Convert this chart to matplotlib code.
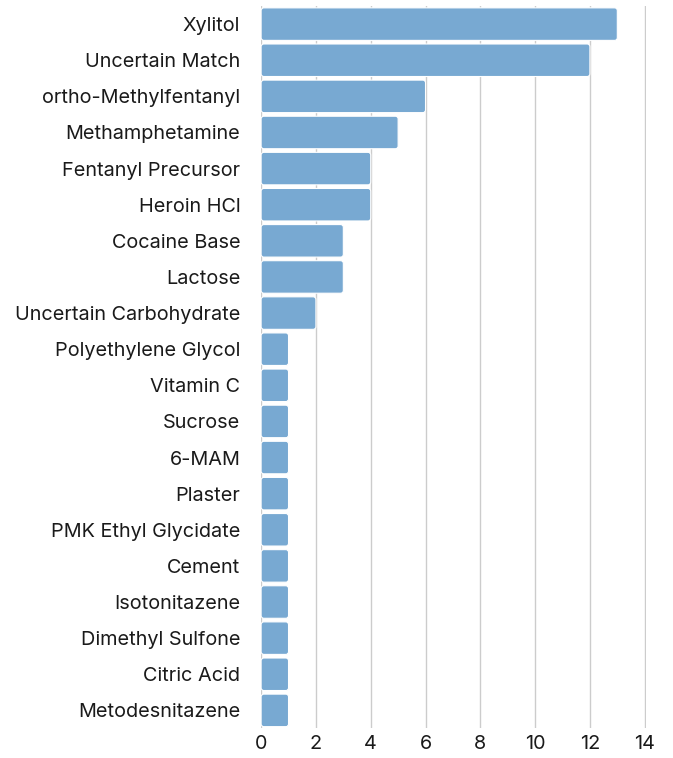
import matplotlib.pyplot as plt
from matplotlib.patches import FancyBboxPatch

# 数据
substances = ['Xylitol', 'Uncertain Match', 'ortho-Methylfentanyl', 'Methamphetamine',
              'Fentanyl Precursor', 'Heroin HCl', 'Cocaine Base', 'Lactose',
              'Uncertain Carbohydrate', 'Polyethylene Glycol', 'Vitamin C', 'Sucrose',
              '6-MAM', 'Plaster', 'PMK Ethyl Glycidate', 'Cement', 'Isotonitazene',
              'Dimethyl Sulfone', 'Citric Acid', 'Metodesnitazene']
counts = [13, 12, 6, 5, 4, 4, 3, 3, 2, 1, 1, 1, 1, 1, 1, 1, 1, 1, 1, 1]
xticks = [0, 2, 4, 6, 8, 10, 12, 14]

plt.rcParams['font.family'] = ['Inter', 'DejaVu Sans']

fig = plt.figure(figsize=(6.73, 7.58), dpi=100)
ax = fig.add_axes([0.388, 0.039, 0.572, 0.953])

ypos = list(range(len(substances)))
bars = ax.barh(ypos, counts, height=0.9, color='#78a9d2')

# 圆角替换
for b in bars:
    x0, y0 = b.get_x(), b.get_y()
    w, h = b.get_width(), b.get_height()
    p = FancyBboxPatch((x0, y0), w, h, boxstyle='round,pad=0,rounding_size=0.1',
                       mutation_aspect=0.75, facecolor='#78a9d2', edgecolor='white',
                       linewidth=0.8, zorder=2)
    ax.add_patch(p)
    b.set_visible(False)

ax.set_xlim(0, 14.05)
ax.set_ylim(len(substances) - 0.5, -0.5)
ax.set_yticks(ypos)
ax.set_yticklabels(substances, fontsize=14.3, color='#1a1a1a')
ax.set_xticks(xticks)
ax.set_xticklabels([str(t) for t in xticks], fontsize=14.3, color='#1a1a1a')
ax.tick_params(axis='both', length=0)
ax.tick_params(axis='x', pad=5)
ax.tick_params(axis='y', pad=15)

for s in ax.spines.values():
    s.set_visible(False)
ax.grid(axis='x', color='#cccccc', linewidth=1, zorder=0)
ax.set_axisbelow(True)

fig.savefig('out.png', dpi=100)
